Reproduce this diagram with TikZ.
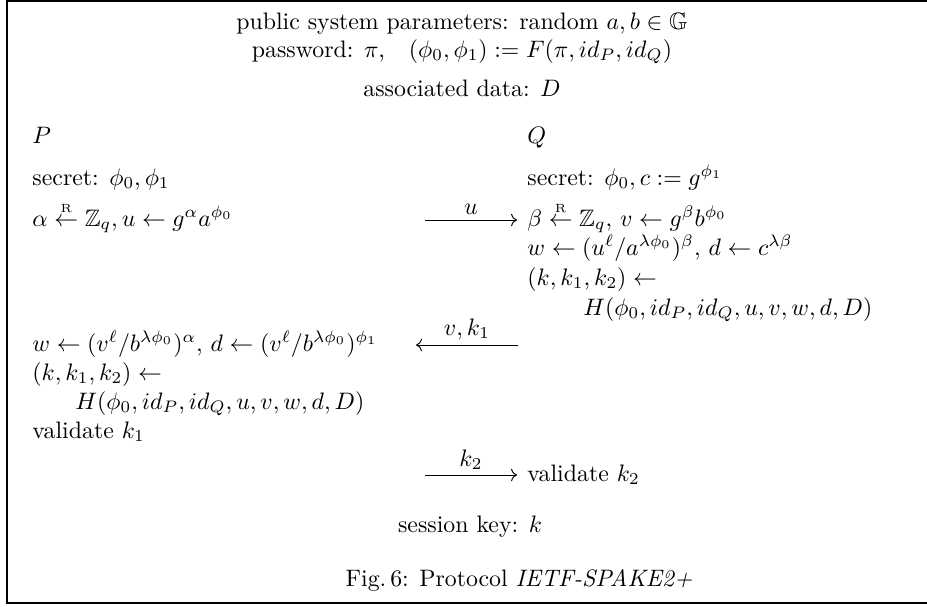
\documentclass[tikz,border=0pt]{standalone}
\usepackage{amsmath,amssymb}
\usetikzlibrary{arrows.meta, positioning}

\begin{document}
\begin{tikzpicture}[
    x=0.42pt, y=-0.42pt,
    line/.style={anchor=base west, inner sep=0pt},
    head/.style={anchor=base, inner sep=0pt},
    msg/.style={-{Computer Modern Rightarrow}, line width=0.4pt},
    frame/.style={line width=0.8pt}
]
\useasboundingbox (0,0) rectangle (927,606);

% frame (right side is cut off)
\draw[frame] (960,1) -- (7,1) -- (7,603) -- (960,603);

% common parameters
\node[head] (params) at (462,29) {public system parameters: random $a,b\in\mathbb{G}$};
\node[head] (pwd) at (462,57) {password: $\pi$,\quad $(\phi_0,\phi_1):=F(\pi,id_P,id_Q)$};
\node[head] (data) at (462,96) {associated data: $D$};

% party P
\node[line] (P) at (32,143) {$P$};
\node[line] (secP) at (32,185) {secret: $\phi_0,\phi_1$};
\node[line] (alpha) at (32,226) {$\alpha\overset{\scriptscriptstyle\mathrm{R}}{\leftarrow}\mathbb{Z}_q, u\leftarrow g^{\alpha}a^{\phi_0}$};

% party Q
\node[line] (Q) at (527,143) {$Q$};
\node[line] (secQ) at (527,185) {secret: $\phi_0, c:=g^{\phi_1}$};
\node[line] (beta) at (527,226) {$\beta\overset{\scriptscriptstyle\mathrm{R}}{\leftarrow}\mathbb{Z}_q,\, v\leftarrow g^{\beta}b^{\phi_0}$};
\node[line] (wQ) at (527,255) {$w\leftarrow(u^{\ell}/a^{\lambda\phi_0})^{\beta},\, d\leftarrow c^{\lambda\beta}$};
\node[line] (kQ) at (527,285) {$(k,k_1,k_2)\leftarrow$};
\node[line] (hQ) at (583,315) {$H(\phi_0,id_P,id_Q,u,v,w,d,D)$};

% P after receiving v
\node[line] (wP) at (32,351) {$w\leftarrow(v^{\ell}/b^{\lambda\phi_0})^{\alpha},\, d\leftarrow(v^{\ell}/b^{\lambda\phi_0})^{\phi_1}$};
\node[line] (kP) at (32,380) {$(k,k_1,k_2)\leftarrow$};
\node[line] (hP) at (75,409) {$H(\phi_0,id_P,id_Q,u,v,w,d,D)$};
\node[line] (valP) at (32,438) {validate $k_1$};
\node[line] (valQ) at (527,481) {validate $k_2$};

\node[head] (key) at (470,532) {session key: $k$};
\node[head] (cap) at (519,586) {Fig.\,6: Protocol \textit{IETF-SPAKE2+}};

% messages
\coordinate (u0) at (425,220);
\coordinate (u1) at (517,220);
\coordinate (v0) at (518,345);
\coordinate (v1) at (416,345);
\coordinate (k0) at (425,475);
\coordinate (k1) at (517,475);
\draw[msg] (u0) -- node[above=1pt, inner sep=1pt] {$u$} (u1);
\draw[msg] (v0) -- node[above=1pt, inner sep=1pt] {$v,k_1$} (v1);
\draw[msg] (k0) -- node[above=1pt, inner sep=1pt] {$k_2$} (k1);

\end{tikzpicture}
\end{document}
